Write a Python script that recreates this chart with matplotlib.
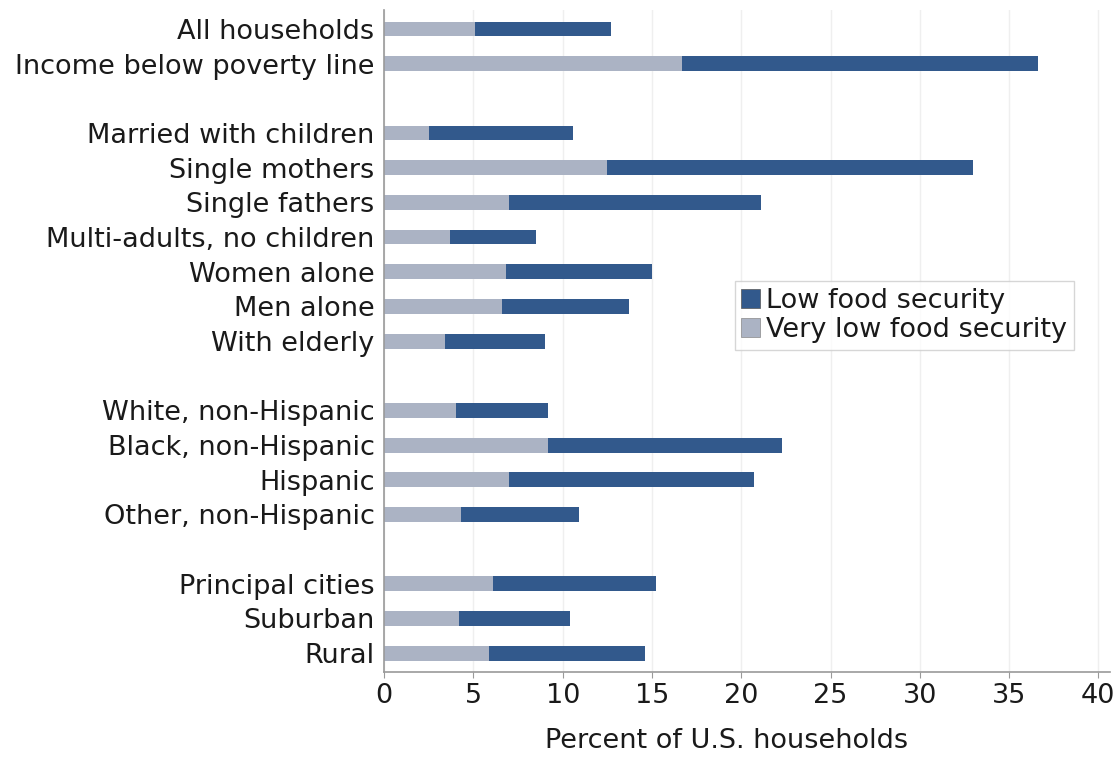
import matplotlib
matplotlib.use("Agg")
import matplotlib.pyplot as plt
from matplotlib.patches import Patch

categories = ["All households", "Income below poverty line", "",
              "Married with children", "Single mothers", "Single fathers",
              "Multi-adults, no children", "Women alone", "Men alone", "With elderly", "",
              "White, non-Hispanic", "Black, non-Hispanic", "Hispanic", "Other, non-Hispanic", "",
              "Principal cities", "Suburban", "Rural"]
very_low = [5.1, 16.7, None, 2.5, 12.5, 7.0, 3.7, 6.8, 6.6, 3.4, None,
            4.0, 9.2, 7.0, 4.3, None, 6.1, 4.2, 5.9]
total = [12.7, 36.6, None, 10.6, 33.0, 21.1, 8.5, 15.0, 13.7, 9.0, None,
         9.2, 22.3, 20.7, 10.9, None, 15.2, 10.4, 14.6]
xticks = [0, 5, 10, 15, 20, 25, 30, 35, 40]

dark = "#32598c"
light = "#abb3c4"
FS = 19.5

plt.rcParams['font.family'] = ['DejaVu Sans']
fig = plt.figure(figsize=(11.2, 7.63), dpi=100)
ax = fig.add_axes([0.343, 0.119, 0.648, 0.868])

ys = list(range(len(categories)))
for y, v, t in zip(ys, very_low, total):
    if v is None:
        continue
    ax.barh(y, v, height=0.43, color=light, edgecolor='none')
    ax.barh(y, t - v, left=v, height=0.43, color=dark, edgecolor='none')

ax.set_ylim(18.55, -0.55)
ax.set_xlim(0, 40.65)
ax.set_yticks([y for y, c in zip(ys, categories) if c])
ax.set_yticklabels([c for c in categories if c], fontsize=FS, color='#1a1a1a')
ax.tick_params(axis='y', length=0, pad=7)
ax.set_xticks(xticks)
ax.set_xticklabels([str(x) for x in xticks], fontsize=FS, color='#1a1a1a')
ax.tick_params(axis='x', length=4, color='#999999', pad=4)
ax.set_xlabel("Percent of U.S. households", fontsize=FS, color='#1a1a1a')
ax.xaxis.set_label_coords(0.472, -0.085)

for s in ['top', 'right']:
    ax.spines[s].set_visible(False)
for s in ['left', 'bottom']:
    ax.spines[s].set_color('#999999')
    ax.spines[s].set_linewidth(1.2)

ax.set_axisbelow(True)
ax.grid(axis='x', color='#efefef', linewidth=1)

handles = [Patch(facecolor=dark, edgecolor='#555555', linewidth=0.5),
           Patch(facecolor=light, edgecolor='#888888', linewidth=0.5)]
leg = ax.legend(handles, ["Low food security", "Very low food security"],
                loc='upper left', bbox_to_anchor=(0.483, 0.59), fontsize=FS,
                frameon=True, fancybox=False, edgecolor='#cccccc',
                handlelength=0.7, handleheight=0.7, handletextpad=0.2,
                borderpad=0.25, labelspacing=0.1, borderaxespad=0)
for t in leg.get_texts():
    t.set_color('#1a1a1a')

fig.savefig("out.png", dpi=100)
